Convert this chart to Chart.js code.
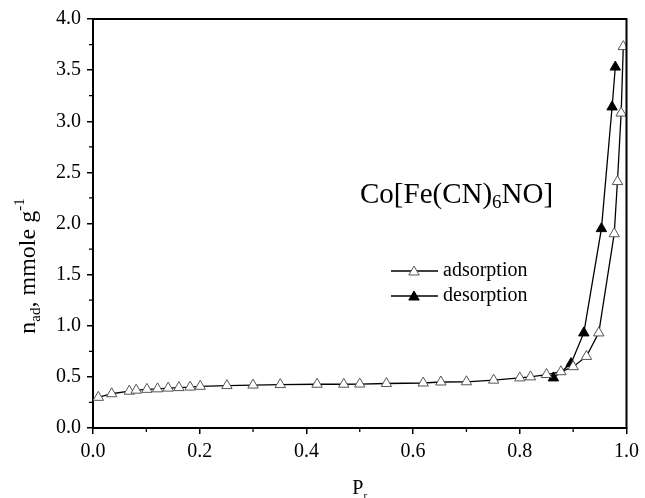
<!DOCTYPE html>
<html>
<head>
<meta charset="utf-8">
<script src="https://cdn.jsdelivr.net/npm/chart.js@4.4.1/dist/chart.umd.min.js"></script>
<style>
  html, body { margin: 0; padding: 0; background: #fff; }
  #wrap { width: 645px; height: 498px; }
</style>
</head>
<body>
<div id="wrap"><canvas id="c" width="645" height="498"></canvas></div>
<script>
// relative pressure P_r and amount adsorbed (mmole/g)
const adsP = [0.01, 0.035, 0.068, 0.081, 0.101, 0.121, 0.141, 0.161, 0.182, 0.201, 0.251, 0.30,
  0.351, 0.42, 0.47, 0.50, 0.55, 0.619, 0.652, 0.70, 0.751, 0.80, 0.82, 0.85, 0.877, 0.90,
  0.925, 0.948, 0.977, 0.983, 0.99, 0.994];
const adsV = [0.30, 0.335, 0.36, 0.37, 0.378, 0.383, 0.39, 0.395, 0.40, 0.408, 0.415, 0.42,
  0.425, 0.428, 0.428, 0.43, 0.435, 0.44, 0.45, 0.452, 0.468, 0.49, 0.50, 0.523, 0.55, 0.60,
  0.70, 0.93, 1.90, 2.41, 3.08, 3.73];
const desP = [0.863, 0.896, 0.92, 0.953, 0.973, 0.979];
const desV = [0.49, 0.63, 0.93, 1.95, 3.14, 3.53];

const xTicks = [0, 0.2, 0.4, 0.6, 0.8, 1.0];
const yTicks = [0, 0.5, 1.0, 1.5, 2.0, 2.5, 3.0, 3.5, 4.0];

const serif = "'Liberation Serif', 'Times New Roman', serif";

function pts(xs, ys) {
  return xs.map((x, i) => ({ x: x, y: ys[i] }));
}

// draw text runs (normal / sub / sup) one after another
function runs(ctx, parts, x, y) {
  let cx = x;
  parts.forEach(p => {
    ctx.font = p.size + 'px ' + serif;
    ctx.fillText(p.t, cx, y + (p.dy || 0));
    cx += ctx.measureText(p.t).width;
  });
}
function runsWidth(ctx, parts) {
  let w = 0;
  parts.forEach(p => {
    ctx.font = p.size + 'px ' + serif;
    w += ctx.measureText(p.t).width;
  });
  return w;
}

function tri(ctx, x, y, r, fill) {
  ctx.beginPath();
  ctx.moveTo(x, y - r);
  ctx.lineTo(x + r * Math.sin(2 * Math.PI / 3), y - r * Math.cos(2 * Math.PI / 3));
  ctx.lineTo(x + r * Math.sin(4 * Math.PI / 3), y - r * Math.cos(4 * Math.PI / 3));
  ctx.closePath();
  ctx.fillStyle = fill;
  ctx.fill();
  ctx.stroke();
}

const extras = {
  id: 'extras',
  afterDraw(chart) {
    const ctx = chart.ctx;
    const a = chart.chartArea;
    const xs = chart.scales.x, ys = chart.scales.y;
    ctx.save();
    ctx.strokeStyle = '#000';
    // top and right frame
    ctx.lineWidth = 2;
    ctx.beginPath();
    ctx.moveTo(a.left, a.top);
    ctx.lineTo(a.right, a.top);
    ctx.lineTo(a.right, a.bottom);
    ctx.stroke();
    // minor ticks
    ctx.lineWidth = 1.3;
    ctx.beginPath();
    for (let v = 0.1; v < 1; v += 0.2) {
      const px = xs.getPixelForValue(v);
      ctx.moveTo(px, a.bottom);
      ctx.lineTo(px, a.bottom + 4);
    }
    for (let v = 0.25; v < 4; v += 0.5) {
      const py = ys.getPixelForValue(v);
      ctx.moveTo(a.left, py);
      ctx.lineTo(a.left - 4, py);
    }
    ctx.stroke();

    ctx.fillStyle = '#000';
    ctx.textBaseline = 'alphabetic';
    ctx.textAlign = 'left';
    // compound name
    runs(ctx, [
      { t: 'Co[Fe(CN)', size: 29 },
      { t: '6', size: 19, dy: 5 },
      { t: 'NO]', size: 29 }
    ], 360, 203);

    // x title
    const xt = [{ t: 'P', size: 20 }, { t: 'r', size: 11, dy: 5 }];
    runs(ctx, xt, (a.left + a.right) / 2 - runsWidth(ctx, xt) / 2, 494);

    // y title
    const yt = [
      { t: 'n', size: 24 },
      { t: 'ad', size: 15, dy: 5 },
      { t: ',', size: 24 },
      { t: ' mmole g', size: 24 },
      { t: '-1', size: 15, dy: -11 }
    ];
    ctx.save();
    ctx.translate(35, 266);
    ctx.rotate(-Math.PI / 2);
    runs(ctx, yt, -runsWidth(ctx, yt) / 2, 0);
    ctx.restore();

    // legend
    const items = [
      { label: 'adsorption', fill: '#fff', y: 271 },
      { label: 'desorption', fill: '#000', y: 296 }
    ];
    items.forEach(it => {
      ctx.strokeStyle = '#000';
      ctx.lineWidth = 1.3;
      ctx.beginPath();
      ctx.moveTo(391, it.y);
      ctx.lineTo(438, it.y);
      ctx.stroke();
      ctx.strokeStyle = it.fill === '#fff' ? '#555' : '#000';
      ctx.lineWidth = 1;
      tri(ctx, 414, it.y + 1, 6, it.fill);
      ctx.fillStyle = '#000';
      ctx.font = '20px ' + serif;
      ctx.textBaseline = 'middle';
      ctx.fillText(it.label, 443, it.y);
    });
    ctx.restore();
  }
};

new Chart(document.getElementById('c'), {
  type: 'scatter',
  data: {
    datasets: [
      {
        label: 'adsorption',
        data: pts(adsP, adsV),
        showLine: true,
        borderColor: '#000',
        borderWidth: 1.3,
        pointStyle: 'triangle',
        pointRadius: 6,
        pointBackgroundColor: '#fff',
        pointBorderColor: '#555',
        pointBorderWidth: 1
      },
      {
        label: 'desorption',
        data: pts(desP, desV),
        showLine: true,
        borderColor: '#000',
        borderWidth: 1.3,
        pointStyle: 'triangle',
        pointRadius: 6,
        pointBackgroundColor: '#000',
        pointBorderColor: '#000',
        pointBorderWidth: 1
      }
    ]
  },
  options: {
    responsive: false,
    animation: false,
    devicePixelRatio: 1,
    layout: { padding: { top: 19, right: 15, left: 0, bottom: 0 } },
    plugins: { legend: { display: false }, tooltip: { enabled: false } },
    scales: {
      x: {
        type: 'linear',
        position: 'bottom',
        min: 0,
        max: 1,
        afterBuildTicks: s => { s.ticks = xTicks.map(v => ({ value: v })); },
        afterFit: s => { s.height = 70; },
        ticks: {
          color: '#000',
          padding: 6,
          maxRotation: 0,
          font: { family: serif, size: 20 },
          callback: v => v.toFixed(1)
        },
        grid: { drawOnChartArea: false, tickLength: 6, color: '#000', lineWidth: 1.5 },
        border: { color: '#000', width: 2 }
      },
      y: {
        type: 'linear',
        min: 0,
        max: 4,
        afterBuildTicks: s => { s.ticks = yTicks.map(v => ({ value: v })); },
        afterFit: s => { s.width = 93; },
        ticks: {
          color: '#000',
          padding: 6,
          font: { family: serif, size: 20 },
          callback: v => v.toFixed(1)
        },
        grid: { drawOnChartArea: false, tickLength: 6, color: '#000', lineWidth: 1.5 },
        border: { color: '#000', width: 2 }
      }
    }
  },
  plugins: [extras]
});
</script>
</body>
</html>
